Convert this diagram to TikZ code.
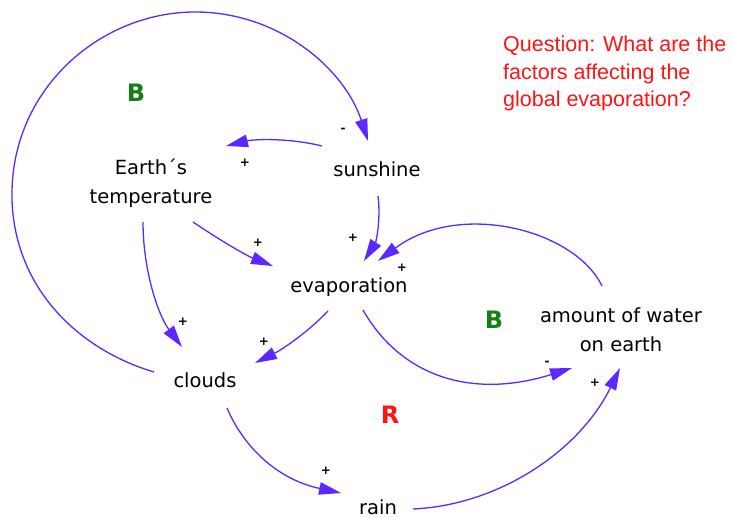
\documentclass[tikz,border=0pt]{standalone}
\usepackage{fontspec}
\setmainfont{DejaVu Sans}
\newfontfamily\qfont{Liberation Sans}
\usetikzlibrary{arrows.meta}
\definecolor{linkc}{RGB}{92,40,255}
\definecolor{loopg}{RGB}{20,128,20}
\definecolor{loopr}{RGB}{255,20,20}
\definecolor{qred}{RGB}{255,20,20}
\begin{document}
\begin{tikzpicture}[x=1pt,y=-1pt,
  var/.style={font=\fontsize{19.5}{29.5}\selectfont, inner sep=0pt, anchor=base, align=center},
  link/.style={draw=linkc, line width=1.3pt, -{Triangle[length=22pt,width=12.5pt]}},
  pol/.style={font=\fontsize{12}{12}\selectfont\bfseries, inner sep=0pt},
  looplbl/.style={font=\fontsize{24}{24}\selectfont\bfseries, inner sep=0pt, anchor=base}]
\useasboundingbox (0,0) rectangle (733,518);

% variables (anchor base = baseline of the last line)
\node[var] (temp) at (151,204) {Earth´s\\temperature};
\node[var] (sun) at (377,177) {sunshine};
\node[var] (evap) at (349,293) {evaporation};
\node[var] (water) at (621,352) {amount of water\\on earth};
\node[var] (clouds) at (205,387) {clouds};
\node[var] (rain) at (378,514) {rain};

% loop labels
\node[looplbl, text=loopg] (b1) at (136,102) {B};
\node[looplbl, text=loopg] (b2) at (494,328) {B};
\node[looplbl, text=loopr] (r) at (390,423) {R};

% question
\node[anchor=base west, inner sep=0pt, align=left, text=qred,
      font=\qfont\fontsize{21.5}{27.5}\selectfont] (q) at (503,107)
  {Question: What are the\\factors affecting the\\global evaporation?};

% connector end points
\coordinate (cl-o1) at (154,372);
\coordinate (sun-i1) at (368,141);
\coordinate (sun-o1) at (322,146);
\coordinate (temp-i1) at (226,146);
\coordinate (sun-o2) at (378,196);
\coordinate (evap-i1) at (364,261);
\coordinate (temp-o1) at (193,222);
\coordinate (evap-i2) at (273,266);
\coordinate (temp-o2) at (143,222);
\coordinate (cl-i1) at (182,347);
\coordinate (evap-o1) at (328,311);
\coordinate (cl-i2) at (255,363);
\coordinate (evap-o2) at (363,310);
\coordinate (wat-i1) at (572,368);
\coordinate (wat-o1) at (602,286);
\coordinate (evap-i3) at (378,261);
\coordinate (cl-o2) at (227,408);
\coordinate (rain-i1) at (341,493);
\coordinate (rain-o1) at (413,509);
\coordinate (wat-i2) at (620,368);

% connectors
\draw[link] (cl-o1) .. controls (80,350) and (15,290) .. (12,200)
  .. controls (9,90) and (100,12) .. (195,12)
  .. controls (280,12) and (345,70) .. (sun-i1);
\draw[link] (sun-o1) .. controls (290,138) and (255,139) .. (temp-i1);
\draw[link] (sun-o2) .. controls (381,220) and (376,242) .. (evap-i1);
\draw[link] (temp-o1) .. controls (215,237) and (245,255) .. (evap-i2);
\draw[link] (temp-o2) .. controls (143,270) and (158,315) .. (cl-i1);
\draw[link] (evap-o1) .. controls (310,330) and (285,348) .. (cl-i2);
\draw[link] (evap-o2) .. controls (400,375) and (470,400) .. (wat-i1);
\draw[link] (wat-o1) .. controls (575,230) and (460,200) .. (evap-i3);
\draw[link] (cl-o2) .. controls (245,450) and (280,480) .. (rain-i1);
\draw[link] (rain-o1) .. controls (500,505) and (580,450) .. (wat-i2);

% polarities
\node[pol] (p1) at (343,130) {-};
\node[pol] (p2) at (245,163) {+};
\node[pol] (p3) at (258,243) {+};
\node[pol] (p4) at (353,238) {+};
\node[pol] (p5) at (402,268) {+};
\node[pol] (p6) at (264,342) {+};
\node[pol] (p7) at (183,322) {+};
\node[pol] (p8) at (547,363) {-};
\node[pol] (p9) at (595,383) {+};
\node[pol] (p10) at (326,471) {+};
\end{tikzpicture}
\end{document}
